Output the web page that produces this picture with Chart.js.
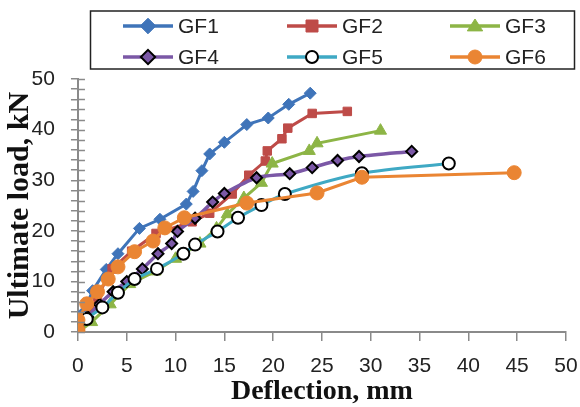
<!DOCTYPE html>
<html>
<head>
<meta charset="utf-8">
<script src="https://cdn.jsdelivr.net/npm/chart.js"></script>
<style>
  body { margin: 0; background: #fff; }
</style>
</head>
<body>
<canvas id="myChart" width="580" height="407"></canvas>
<script>
// series names
const names = ["GF1", "GF2", "GF3", "GF4", "GF5", "GF6"];

// deflection (mm) and load (kN)
const gf1X = [0, 0.6, 1.5, 2.9, 4.1, 6.3, 8.4, 11.1, 11.8, 12.7, 13.5, 15, 17.3, 19.5, 21.6, 23.8];
const gf1Y = [0, 4, 8.2, 12.4, 15.5, 20.5, 22.3, 25.3, 27.8, 31.9, 35.2, 37.5, 41, 42.3, 45, 47.2];
const gf2X = [0, 1, 2, 3.5, 5.5, 8, 11.7, 13.5, 15.8, 17.5, 19.2, 19.4, 20.9, 21.5, 24, 27.6];
const gf2Y = [0, 3, 7, 12.5, 16, 19.5, 21.8, 23.5, 27.3, 31, 33.8, 35.8, 38.2, 40.3, 43.2, 43.6];
const gf3X = [0, 1.4, 3.3, 5.3, 7.9, 10, 12.5, 14.2, 15.3, 17, 18.8, 19.9, 23.7, 24.5, 31];
const gf3Y = [0, 2, 5.5, 9.5, 12, 14.5, 17.5, 20.5, 23.3, 26.5, 29.5, 33.3, 35.8, 37.3, 39.8];
const gf4X = [0, 1, 2.2, 3.6, 5, 6.6, 8.2, 9.6, 10.2, 12, 13.8, 15, 18.3, 21.7, 24, 26.6, 28.8, 34.2];
const gf4Y = [0.5, 3, 5.5, 8, 10, 12.5, 15.5, 17.5, 19.9, 22.5, 25.7, 27.4, 30.5, 31.3, 32.5, 33.9, 34.7, 35.7];
const gf5X = [0, 0.9, 2.5, 4.1, 5.8, 8.1, 10.8, 12, 14.3, 16.4, 18.8, 21.2, 29.1, 38];
const gf5Y = [0.5, 2.6, 4.9, 7.8, 10.5, 12.5, 15.5, 17.3, 19.9, 22.6, 25.1, 27.3, 31.4, 33.3];
const gf6X = [0, 0, 0.9, 2, 3.1, 4.1, 5.8, 7.7, 8.9, 10.9, 17.3, 24.5, 29.1, 44.7];
const gf6Y = [0.4, 2.4, 5.6, 8, 10.5, 12.9, 15.9, 18, 20.6, 22.6, 25.5, 27.5, 30.6, 31.5];

// axis ticks
const xTicks = [0, 5, 10, 15, 20, 25, 30, 35, 40, 45, 50];
const yTicks = [0, 10, 20, 30, 40, 50];

const xs = [gf1X, gf2X, gf3X, gf4X, gf5X, gf6X];
const ys = [gf1Y, gf2Y, gf3Y, gf4Y, gf5Y, gf6Y];

// look of each series
const lineColors = ["#3F74B9", "#BE4B48", "#8DB546", "#7B58A6", "#3FA9C4", "#EA8533"];
const shapes = ["rectRot", "rect", "triangle", "rectRot", "circle", "circle"];
const fills = ["#3F74B9", "#BE4B48", "#8DB546", "#7B58A6", "#ffffff", "#EA8533"];
const edges = ["#3F74B9", "#BE4B48", "#8DB546", "#000000", "#000000", "#EA8533"];
const sizes = [6, 6, 7, 5.5, 6, 7];
const edgeW = [1, 1, 1, 2, 2, 1];

const datasets = names.map(function(n, i) {
  return {
    label: n,
    data: xs[i].map(function(x, j) { return {x: x, y: ys[i][j]}; }),
    borderColor: lineColors[i],
    borderWidth: i == 3 ? 3.5 : 3,
    pointStyle: shapes[i],
    pointBackgroundColor: fills[i],
    pointBorderColor: edges[i],
    pointBorderWidth: edgeW[i],
    pointRadius: sizes[i],
    tension: (i == 3 || i == 4) ? 0.25 : 0,
    showLine: true,
    fill: false,
    order: 6 - i
  };
});

function marker(ctx, i, x, y) {
  const r = sizes[i];
  ctx.save();
  ctx.fillStyle = fills[i];
  ctx.strokeStyle = edges[i];
  ctx.lineWidth = edgeW[i];
  ctx.beginPath();
  if (shapes[i] == "circle") {
    ctx.arc(x, y, r, 0, Math.PI * 2);
  } else if (shapes[i] == "rect") {
    ctx.rect(x - r, y - r, r * 2, r * 2);
  } else if (shapes[i] == "rectRot") {
    ctx.moveTo(x, y - r * 1.3); ctx.lineTo(x + r * 1.3, y);
    ctx.lineTo(x, y + r * 1.3); ctx.lineTo(x - r * 1.3, y);
    ctx.closePath();
  } else {
    ctx.moveTo(x, y - r); ctx.lineTo(x + r * 1.1, y + r * 0.7);
    ctx.lineTo(x - r * 1.1, y + r * 0.7); ctx.closePath();
  }
  ctx.fill();
  ctx.stroke();
  ctx.restore();
}

// legend box in 3 columns x 2 rows
const legendBox = {
  id: "legendBox",
  afterDraw: function(chart) {
    const ctx = chart.ctx;
    ctx.save();
    ctx.strokeStyle = "#222";
    ctx.lineWidth = 1.5;
    ctx.strokeRect(90.5, 11, 484, 58);
    const cols = [123, 287, 450];
    const rows = [26, 57];
    ctx.font = "21px 'Liberation Sans'";
    ctx.textBaseline = "middle";
    names.forEach(function(n, i) {
      const x = cols[i % 3], y = rows[Math.floor(i / 3)];
      ctx.strokeStyle = lineColors[i];
      ctx.lineWidth = 3.5;
      ctx.beginPath(); ctx.moveTo(x, y); ctx.lineTo(x + 50, y); ctx.stroke();
      marker(ctx, i, x + 25, y);
      ctx.fillStyle = "#222";
      ctx.fillText(n, x + 55, y + 1);
    });
    ctx.restore();
  }
};

// y ticks cross the axis: draw the inner half
const innerTicks = {
  id: "innerTicks",
  afterDatasetsDraw: function(chart) {
    const ctx = chart.ctx, sc = chart.scales.y;
    const x0 = chart.scales.x.getPixelForValue(0);
    ctx.save();
    ctx.strokeStyle = "#8a8a8a";
    ctx.lineWidth = 1.5;
    sc.ticks.forEach(function(t) {
      const y = Math.round(sc.getPixelForValue(t.value)) + 0.5;
      ctx.beginPath(); ctx.moveTo(x0, y); ctx.lineTo(x0 + 7, y); ctx.stroke();
    });
    ctx.restore();
  }
};

new Chart("myChart", {
  type: "scatter",
  data: { datasets: datasets },
  plugins: [legendBox, innerTicks],
  options: {
    responsive: false,
    animation: false,
    layout: { padding: { top: 79, right: 3, bottom: 2, left: 2 } },
    plugins: {
      legend: { display: false },
      tooltip: { enabled: false }
    },
    scales: {
      x: {
        type: "linear",
        min: 0, max: 50,
        afterBuildTicks: function(s) { s.ticks = xTicks.map(function(v) { return {value: v}; }); },
        ticks: { color: "#222", font: { family: "Liberation Sans", size: 21 }, padding: 2.4, maxRotation: 0 },
        // long tick slot, but only the first 8px of each tick mark is drawn
        grid: { drawOnChartArea: false, tickLength: 19, tickBorderDash: [8, 40], color: "#8a8a8a", lineWidth: 1.5 },
        border: { color: "#8a8a8a", width: 2 },
        title: { display: true, text: "Deflection, mm", color: "#111",
                 font: { family: "Liberation Serif", size: 28, weight: "bold" }, padding: { top: -5.8, bottom: -4 } }
      },
      y: {
        min: 0, max: 50,
        ticks: {
          stepSize: 2, autoSkip: false, color: "#222",
          font: { family: "Liberation Sans", size: 21 }, padding: 16,
          callback: function(v) { return yTicks.indexOf(v) >= 0 ? v : ""; }
        },
        grid: { drawOnChartArea: false, tickLength: 7, color: "#8a8a8a", lineWidth: 1.5 },
        border: { color: "#8a8a8a", width: 2 },
        title: { display: true, text: "Ultimate load, kN", color: "#111",
                 font: { family: "Liberation Serif", size: 30, weight: "bold" }, padding: { top: 0, bottom: -22.4 } }
      }
    }
  }
});
</script>
</body>
</html>
